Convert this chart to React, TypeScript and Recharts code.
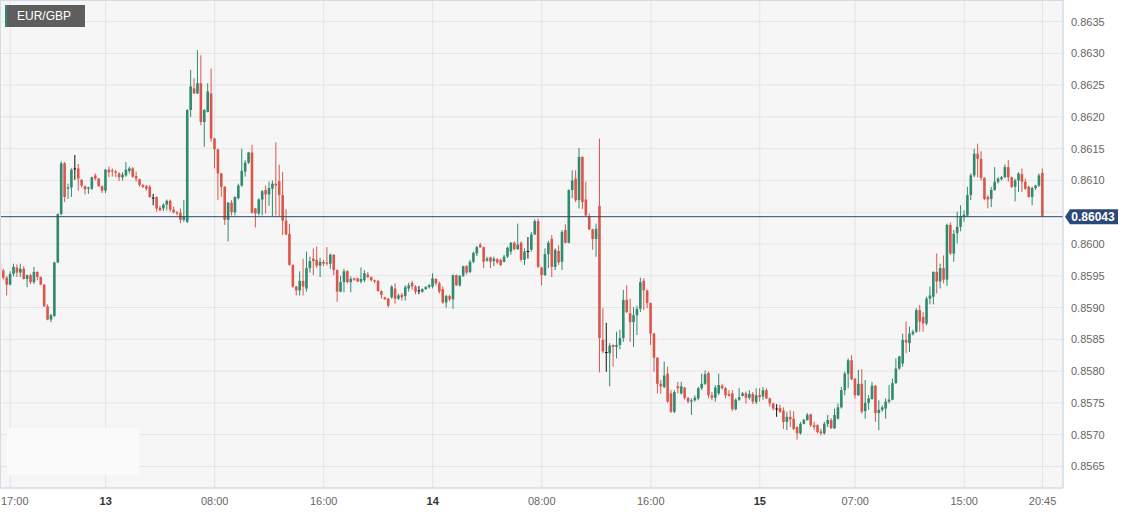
import React from 'react';
import { ComposedChart, Bar, XAxis, YAxis, CartesianGrid, ReferenceLine } from 'recharts';

// 15-minute candles, 16:15 (12th) .. 20:45 (15th)
const OPEN = [
  0.85970, 0.85958, 0.85947, 0.85936, 0.85953, 0.85963, 0.85955, 0.85961, 0.85945, 0.85951,
  0.85940, 0.85956, 0.85948, 0.85936, 0.85902, 0.85881, 0.85887, 0.85971, 0.86047, 0.86127,
  0.86087, 0.86089, 0.86119, 0.86119, 0.86101, 0.86091, 0.86087, 0.86087, 0.86108, 0.86103,
  0.86091, 0.86084, 0.86117, 0.86116, 0.86114, 0.86111, 0.86105, 0.86108, 0.86115, 0.86119,
  0.86107, 0.86102, 0.86093, 0.86091, 0.86090, 0.86073, 0.86074, 0.86057, 0.86056, 0.86062,
  0.86068, 0.86054, 0.86050, 0.86049, 0.86038, 0.86035, 0.86211, 0.86245, 0.86237, 0.86253,
  0.86192, 0.86208, 0.86237, 0.86166, 0.86149, 0.86111, 0.86090, 0.86038, 0.86065, 0.86050,
  0.86072, 0.86092, 0.86114, 0.86128, 0.86144, 0.86056, 0.86048, 0.86070, 0.86085, 0.86078,
  0.86087, 0.86095, 0.86099, 0.86077, 0.86037, 0.86016, 0.85967, 0.85933, 0.85927, 0.85942,
  0.85930, 0.85962, 0.85977, 0.85975, 0.85966, 0.85972, 0.85971, 0.85969, 0.85983, 0.85959,
  0.85925, 0.85940, 0.85957, 0.85940, 0.85946, 0.85946, 0.85941, 0.85943, 0.85952, 0.85948,
  0.85943, 0.85942, 0.85926, 0.85916, 0.85914, 0.85916, 0.85930, 0.85914, 0.85920, 0.85918,
  0.85930, 0.85939, 0.85933, 0.85927, 0.85925, 0.85929, 0.85932, 0.85933, 0.85945, 0.85938,
  0.85929, 0.85908, 0.85918, 0.85913, 0.85951, 0.85935, 0.85950, 0.85965, 0.85956, 0.85972,
  0.85985, 0.85999, 0.85995, 0.85974, 0.85979, 0.85973, 0.85976, 0.85975, 0.85972, 0.85980,
  0.85988, 0.86002, 0.85992, 0.86002, 0.85975, 0.85989, 0.85991, 0.86015, 0.86036, 0.85963,
  0.85951, 0.85984, 0.86008, 0.85964, 0.85989, 0.85972, 0.86022, 0.86002, 0.86085, 0.86103,
  0.86069, 0.86137, 0.86070, 0.86044, 0.86023, 0.86008, 0.86060, 0.85849, 0.85830, 0.85828,
  0.85841, 0.85838, 0.85841, 0.85852, 0.85912, 0.85891, 0.85877, 0.85888, 0.85898, 0.85942,
  0.85927, 0.85907, 0.85859, 0.85821, 0.85780, 0.85775, 0.85796, 0.85765, 0.85736, 0.85776,
  0.85765, 0.85774, 0.85758, 0.85752, 0.85754, 0.85757, 0.85773, 0.85780, 0.85797, 0.85762,
  0.85758, 0.85765, 0.85777, 0.85773, 0.85764, 0.85765, 0.85740, 0.85755, 0.85761, 0.85765,
  0.85758, 0.85764, 0.85751, 0.85762, 0.85760, 0.85770, 0.85757, 0.85749, 0.85741, 0.85742,
  0.85738, 0.85720, 0.85728, 0.85725, 0.85712, 0.85702, 0.85717, 0.85723, 0.85732, 0.85715,
  0.85715, 0.85705, 0.85702, 0.85717, 0.85723, 0.85710, 0.85725, 0.85743, 0.85770, 0.85796,
  0.85817, 0.85788, 0.85762, 0.85780, 0.85737, 0.85750, 0.85756, 0.85777, 0.85734, 0.85739,
  0.85741, 0.85752, 0.85755, 0.85781, 0.85804, 0.85812, 0.85849, 0.85844, 0.85858, 0.85862,
  0.85896, 0.85885, 0.85875, 0.85914, 0.85917, 0.85956, 0.85941, 0.85962, 0.85944, 0.86030,
  0.85985, 0.86017, 0.86027, 0.86043, 0.86045, 0.86077, 0.86108, 0.86142, 0.86134, 0.86104,
  0.86074, 0.86071, 0.86085, 0.86098, 0.86102, 0.86105, 0.86121, 0.86105, 0.86090, 0.86100,
  0.86110, 0.86098, 0.86090, 0.86074, 0.86088, 0.86092, 0.86112,
];

const HIGH = [
  0.85974, 0.85961, 0.85950, 0.85957, 0.85969, 0.85968, 0.85969, 0.85965, 0.85952, 0.85953,
  0.85964, 0.85957, 0.85949, 0.85937, 0.85905, 0.85890, 0.85972, 0.86048, 0.86130, 0.86129,
  0.86095, 0.86119, 0.86140, 0.86126, 0.86102, 0.86092, 0.86090, 0.86106, 0.86111, 0.86104,
  0.86092, 0.86118, 0.86122, 0.86119, 0.86117, 0.86113, 0.86113, 0.86129, 0.86122, 0.86121,
  0.86114, 0.86103, 0.86094, 0.86093, 0.86093, 0.86079, 0.86075, 0.86060, 0.86064, 0.86070,
  0.86070, 0.86059, 0.86052, 0.86056, 0.86069, 0.86212, 0.86274, 0.86261, 0.86305, 0.86297,
  0.86212, 0.86253, 0.86276, 0.86167, 0.86150, 0.86112, 0.86091, 0.86066, 0.86069, 0.86075,
  0.86095, 0.86150, 0.86132, 0.86145, 0.86156, 0.86057, 0.86072, 0.86085, 0.86092, 0.86098,
  0.86100, 0.86160, 0.86125, 0.86113, 0.86055, 0.86032, 0.85968, 0.85934, 0.85957, 0.85977,
  0.85988, 0.85980, 0.85993, 0.85996, 0.85978, 0.85975, 0.85995, 0.85985, 0.85984, 0.85960,
  0.85950, 0.85961, 0.85959, 0.85949, 0.85947, 0.85947, 0.85963, 0.85959, 0.85956, 0.85949,
  0.85944, 0.85943, 0.85927, 0.85917, 0.85915, 0.85935, 0.85938, 0.85922, 0.85923, 0.85935,
  0.85939, 0.85942, 0.85935, 0.85934, 0.85930, 0.85934, 0.85937, 0.85954, 0.85946, 0.85941,
  0.85933, 0.85920, 0.85920, 0.85952, 0.85952, 0.85951, 0.85966, 0.85967, 0.85975, 0.85988,
  0.85997, 0.86002, 0.85996, 0.85980, 0.85980, 0.85980, 0.85978, 0.85977, 0.85983, 0.85996,
  0.86003, 0.86004, 0.86032, 0.86004, 0.85993, 0.86011, 0.86019, 0.86039, 0.86040, 0.85964,
  0.85993, 0.86005, 0.86014, 0.85993, 0.85998, 0.86022, 0.86031, 0.86086, 0.86116, 0.86116,
  0.86151, 0.86138, 0.86098, 0.86048, 0.86024, 0.86032, 0.86166, 0.85899, 0.85876, 0.85844,
  0.85842, 0.85862, 0.85865, 0.85928, 0.85935, 0.85914, 0.85901, 0.85903, 0.85947, 0.85946,
  0.85928, 0.85908, 0.85860, 0.85822, 0.85786, 0.85815, 0.85807, 0.85770, 0.85770, 0.85783,
  0.85783, 0.85775, 0.85759, 0.85757, 0.85762, 0.85775, 0.85796, 0.85801, 0.85799, 0.85767,
  0.85778, 0.85796, 0.85780, 0.85775, 0.85770, 0.85770, 0.85757, 0.85773, 0.85767, 0.85768,
  0.85770, 0.85767, 0.85773, 0.85773, 0.85775, 0.85773, 0.85758, 0.85750, 0.85748, 0.85747,
  0.85743, 0.85736, 0.85738, 0.85737, 0.85713, 0.85720, 0.85725, 0.85734, 0.85733, 0.85720,
  0.85716, 0.85709, 0.85720, 0.85731, 0.85726, 0.85741, 0.85749, 0.85775, 0.85799, 0.85820,
  0.85825, 0.85789, 0.85802, 0.85803, 0.85786, 0.85762, 0.85783, 0.85778, 0.85754, 0.85746,
  0.85757, 0.85778, 0.85788, 0.85820, 0.85824, 0.85859, 0.85878, 0.85870, 0.85865, 0.85899,
  0.85904, 0.85893, 0.85917, 0.85933, 0.85957, 0.85985, 0.85969, 0.85982, 0.86032, 0.86034,
  0.86022, 0.86051, 0.86061, 0.86053, 0.86090, 0.86111, 0.86150, 0.86158, 0.86146, 0.86105,
  0.86077, 0.86090, 0.86121, 0.86105, 0.86107, 0.86125, 0.86132, 0.86106, 0.86103, 0.86113,
  0.86119, 0.86103, 0.86092, 0.86090, 0.86093, 0.86111, 0.86119,
];

const LOW = [
  0.85955, 0.85944, 0.85919, 0.85935, 0.85949, 0.85948, 0.85948, 0.85944, 0.85932, 0.85937,
  0.85937, 0.85943, 0.85935, 0.85901, 0.85880, 0.85877, 0.85885, 0.85970, 0.86045, 0.86066,
  0.86071, 0.86074, 0.86101, 0.86084, 0.86089, 0.86078, 0.86079, 0.86085, 0.86100, 0.86090,
  0.86080, 0.86080, 0.86105, 0.86106, 0.86105, 0.86099, 0.86100, 0.86106, 0.86111, 0.86104,
  0.86098, 0.86090, 0.86088, 0.86084, 0.86073, 0.86061, 0.86051, 0.86052, 0.86052, 0.86053,
  0.86051, 0.86048, 0.86045, 0.86033, 0.86035, 0.86033, 0.86200, 0.86236, 0.86236, 0.86187,
  0.86153, 0.86207, 0.86161, 0.86119, 0.86069, 0.86074, 0.86030, 0.86004, 0.86045, 0.86045,
  0.86070, 0.86090, 0.86106, 0.86126, 0.86048, 0.86026, 0.86045, 0.86045, 0.86048, 0.86060,
  0.86044, 0.86045, 0.86043, 0.86014, 0.86014, 0.85966, 0.85931, 0.85919, 0.85919, 0.85919,
  0.85925, 0.85955, 0.85951, 0.85962, 0.85948, 0.85965, 0.85966, 0.85961, 0.85951, 0.85909,
  0.85924, 0.85924, 0.85938, 0.85924, 0.85942, 0.85940, 0.85938, 0.85940, 0.85946, 0.85941,
  0.85938, 0.85925, 0.85914, 0.85912, 0.85900, 0.85914, 0.85906, 0.85912, 0.85911, 0.85911,
  0.85925, 0.85928, 0.85921, 0.85921, 0.85923, 0.85928, 0.85930, 0.85930, 0.85935, 0.85922,
  0.85906, 0.85900, 0.85910, 0.85898, 0.85934, 0.85933, 0.85948, 0.85952, 0.85954, 0.85970,
  0.85981, 0.85994, 0.85962, 0.85972, 0.85962, 0.85965, 0.85969, 0.85965, 0.85971, 0.85978,
  0.85983, 0.85990, 0.85991, 0.85972, 0.85967, 0.85977, 0.85988, 0.86014, 0.85962, 0.85935,
  0.85950, 0.85962, 0.85948, 0.85959, 0.85967, 0.85959, 0.86001, 0.86001, 0.86072, 0.86066,
  0.86056, 0.86055, 0.86044, 0.86022, 0.85991, 0.85980, 0.85798, 0.85828, 0.85799, 0.85776,
  0.85807, 0.85820, 0.85834, 0.85846, 0.85891, 0.85846, 0.85838, 0.85857, 0.85893, 0.85896,
  0.85899, 0.85841, 0.85799, 0.85765, 0.85764, 0.85773, 0.85750, 0.85734, 0.85734, 0.85765,
  0.85763, 0.85755, 0.85749, 0.85731, 0.85752, 0.85754, 0.85770, 0.85778, 0.85757, 0.85754,
  0.85752, 0.85762, 0.85771, 0.85757, 0.85760, 0.85737, 0.85738, 0.85753, 0.85760, 0.85749,
  0.85755, 0.85748, 0.85748, 0.85752, 0.85755, 0.85756, 0.85744, 0.85738, 0.85728, 0.85734,
  0.85709, 0.85707, 0.85712, 0.85707, 0.85692, 0.85700, 0.85716, 0.85722, 0.85712, 0.85707,
  0.85702, 0.85699, 0.85700, 0.85712, 0.85709, 0.85709, 0.85724, 0.85741, 0.85762, 0.85773,
  0.85786, 0.85757, 0.85761, 0.85733, 0.85725, 0.85739, 0.85755, 0.85720, 0.85707, 0.85736,
  0.85725, 0.85749, 0.85754, 0.85780, 0.85802, 0.85807, 0.85828, 0.85830, 0.85856, 0.85860,
  0.85862, 0.85862, 0.85872, 0.85905, 0.85905, 0.85922, 0.85930, 0.85938, 0.85934, 0.85983,
  0.85972, 0.86001, 0.86020, 0.86035, 0.86043, 0.86069, 0.86105, 0.86105, 0.86100, 0.86069,
  0.86056, 0.86058, 0.86084, 0.86095, 0.86100, 0.86104, 0.86098, 0.86088, 0.86067, 0.86082,
  0.86082, 0.86085, 0.86073, 0.86061, 0.86085, 0.86090, 0.86043,
];

const CLOSE = [
  0.85958, 0.85947, 0.85936, 0.85953, 0.85964, 0.85955, 0.85961, 0.85945, 0.85951, 0.85940,
  0.85956, 0.85948, 0.85936, 0.85902, 0.85881, 0.85888, 0.85971, 0.86047, 0.86127, 0.86074,
  0.86089, 0.86117, 0.86119, 0.86103, 0.86092, 0.86086, 0.86089, 0.86105, 0.86103, 0.86091,
  0.86084, 0.86117, 0.86113, 0.86114, 0.86112, 0.86105, 0.86109, 0.86117, 0.86119, 0.86106,
  0.86103, 0.86093, 0.86090, 0.86087, 0.86074, 0.86073, 0.86056, 0.86053, 0.86062, 0.86068,
  0.86054, 0.86050, 0.86048, 0.86038, 0.86043, 0.86211, 0.86248, 0.86237, 0.86253, 0.86192,
  0.86211, 0.86240, 0.86166, 0.86149, 0.86111, 0.86090, 0.86038, 0.86065, 0.86050, 0.86074,
  0.86092, 0.86115, 0.86128, 0.86144, 0.86049, 0.86048, 0.86070, 0.86083, 0.86078, 0.86088,
  0.86095, 0.86092, 0.86077, 0.86037, 0.86015, 0.85967, 0.85933, 0.85927, 0.85942, 0.85933,
  0.85962, 0.85973, 0.85973, 0.85966, 0.85972, 0.85969, 0.85969, 0.85983, 0.85959, 0.85925,
  0.85940, 0.85957, 0.85940, 0.85945, 0.85944, 0.85941, 0.85945, 0.85954, 0.85948, 0.85943,
  0.85941, 0.85926, 0.85920, 0.85913, 0.85903, 0.85933, 0.85914, 0.85919, 0.85916, 0.85932,
  0.85935, 0.85933, 0.85925, 0.85927, 0.85929, 0.85932, 0.85935, 0.85946, 0.85938, 0.85925,
  0.85908, 0.85918, 0.85913, 0.85951, 0.85935, 0.85950, 0.85965, 0.85955, 0.85972, 0.85986,
  0.85995, 0.85995, 0.85972, 0.85977, 0.85972, 0.85977, 0.85971, 0.85967, 0.85980, 0.85994,
  0.86002, 0.85992, 0.85999, 0.85975, 0.85988, 0.85989, 0.86015, 0.86036, 0.85964, 0.85951,
  0.85984, 0.86002, 0.85964, 0.85991, 0.85971, 0.86019, 0.86002, 0.86085, 0.86100, 0.86069,
  0.86137, 0.86066, 0.86045, 0.86023, 0.86008, 0.86024, 0.85852, 0.85831, 0.85830, 0.85840,
  0.85838, 0.85841, 0.85852, 0.85912, 0.85893, 0.85877, 0.85888, 0.85898, 0.85940, 0.85927,
  0.85907, 0.85859, 0.85821, 0.85780, 0.85776, 0.85793, 0.85752, 0.85736, 0.85767, 0.85773,
  0.85776, 0.85758, 0.85752, 0.85754, 0.85758, 0.85773, 0.85780, 0.85795, 0.85762, 0.85758,
  0.85774, 0.85778, 0.85773, 0.85762, 0.85761, 0.85740, 0.85755, 0.85759, 0.85765, 0.85758,
  0.85764, 0.85752, 0.85762, 0.85759, 0.85770, 0.85757, 0.85749, 0.85741, 0.85741, 0.85736,
  0.85720, 0.85728, 0.85724, 0.85709, 0.85702, 0.85717, 0.85723, 0.85731, 0.85715, 0.85712,
  0.85704, 0.85702, 0.85717, 0.85723, 0.85710, 0.85731, 0.85743, 0.85770, 0.85796, 0.85817,
  0.85787, 0.85762, 0.85780, 0.85736, 0.85750, 0.85757, 0.85777, 0.85734, 0.85739, 0.85743,
  0.85752, 0.85755, 0.85781, 0.85804, 0.85823, 0.85849, 0.85845, 0.85859, 0.85862, 0.85896,
  0.85878, 0.85875, 0.85914, 0.85919, 0.85956, 0.85941, 0.85962, 0.85944, 0.86030, 0.85985,
  0.86016, 0.86027, 0.86043, 0.86046, 0.86077, 0.86108, 0.86142, 0.86134, 0.86104, 0.86071,
  0.86070, 0.86085, 0.86098, 0.86103, 0.86105, 0.86121, 0.86105, 0.86090, 0.86100, 0.86111,
  0.86098, 0.86087, 0.86074, 0.86088, 0.86092, 0.86108, 0.86043,
];

// x-axis: candle index of each labelled time
const TICK_INDEX = [3, 31, 63, 95, 127, 159, 191, 223, 251, 283, 306];
const TICK_LABELS = ['17:00', '13', '08:00', '16:00', '14', '08:00', '16:00', '15', '07:00', '15:00', '20:45'];
const DAY_LABELS = ['13', '14', '15'];

const PRICE_TICKS = [
  0.8565, 0.857, 0.8575, 0.858, 0.8585, 0.859, 0.8595, 0.86,
  0.8605, 0.861, 0.8615, 0.862, 0.8625, 0.863, 0.8635,
];
const LAST_PRICE = 0.86043;

const GREEN = '#2f8a6f';
const RED = '#d9574a';
const NAVY = '#2c4878';
const FONT = '"Liberation Sans", Arial, sans-serif';

const data = OPEN.map((open, i) => ({
  i,
  open,
  high: HIGH[i],
  low: LOW[i],
  close: CLOSE[i],
}));

const Candle = (props: any) => {
  const { x, y, width, height, payload } = props;
  if (!payload) return null;
  const { open, close, high, low } = payload;
  const top = Math.min(y, y + height);
  const h = Math.abs(height);
  const k = high > low ? h / (high - low) : 0;
  const yO = top + (high - open) * k;
  const yC = top + (high - close) * k;
  const color = close > open ? GREEN : close < open ? RED : '#111';
  const cx = x + width / 2;
  const bTop = Math.min(yO, yC);
  const bH = Math.max(Math.abs(yC - yO), 1);
  return (
    <g>
      <line x1={cx} x2={cx} y1={top} y2={top + h} stroke={color} strokeWidth={1} />
      <rect x={cx - 1.3} y={bTop} width={2.6} height={bH} fill={color} />
    </g>
  );
};

const XTick = (props: any) => {
  const { x, y, payload } = props;
  const label = TICK_LABELS[TICK_INDEX.indexOf(payload.value)];
  const bold = DAY_LABELS.includes(label);
  // keep the first label inside the picture
  const nearEdge = x < 16;
  return (
    <text
      x={nearEdge ? 1 : x}
      y={y}
      dy={9}
      textAnchor={nearEdge ? 'start' : 'middle'}
      fontSize={11}
      fontFamily={FONT}
      fontWeight={bold ? 'bold' : 'normal'}
      fill={bold ? '#333' : '#666'}
    >
      {label}
    </text>
  );
};

const YTick = (props: any) => {
  const { x, y, payload } = props;
  // the 0.8605 label sits under the last-price tag
  if (Math.abs(payload.value - 0.8605) < 1e-9) return null;
  return (
    <text x={x} y={y} dy={4} textAnchor="start" fontSize={11} fontFamily={FONT} fill="#666">
      {payload.value.toFixed(4)}
    </text>
  );
};

const PriceTag = (props: any) => {
  const vb = props.viewBox;
  if (!vb) return null;
  const x0 = vb.x + vb.width + 2;
  const y0 = vb.y;
  return (
    <g>
      <path
        d={`M${x0},${y0} L${x0 + 5},${y0 - 7.5} L${x0 + 53},${y0 - 7.5} L${x0 + 53},${y0 + 7.5} L${x0 + 5},${y0 + 7.5} Z`}
        fill={NAVY}
      />
      <text x={x0 + 28} y={y0 + 4.3} textAnchor="middle" fontSize={12} fontWeight="bold" fontFamily={FONT} fill="#fff">
        {LAST_PRICE.toFixed(5)}
      </text>
    </g>
  );
};

export default function App() {
  return (
    <div style={{ position: 'absolute', left: 0, top: 0, width: 1133, height: 514, background: '#fff', fontFamily: FONT }}>
      <ComposedChart width={1133} height={514} data={data} margin={{ top: 0, right: 0, bottom: 0, left: 0 }}>
        <CartesianGrid stroke="#e4e4e4" fill="#f6f6f6" />
        <XAxis
          type="number"
          dataKey="i"
          domain={[-0.02, 312]}
          allowDataOverflow
          ticks={TICK_INDEX}
          interval={0}
          tick={<XTick />}
          tickLine={false}
          axisLine={{ stroke: '#cdd5e4' }}
          height={26}
        />
        <YAxis
          orientation="right"
          type="number"
          domain={[0.85616, 0.86384]}
          allowDataOverflow
          ticks={PRICE_TICKS}
          interval={0}
          tick={<YTick />}
          tickLine={false}
          axisLine={{ stroke: '#cdd5e4' }}
          width={70}
        />
        <Bar dataKey={(d: any) => [d.low, d.high]} shape={<Candle />} barSize={3} isAnimationActive={false} />
        <ReferenceLine y={LAST_PRICE} stroke={NAVY} strokeWidth={1} label={<PriceTag />} />
      </ComposedChart>

      {/* faint patch bottom-left */}
      <div style={{ position: 'absolute', left: 7, top: 428, width: 132, height: 47, background: '#fafafa' }} />

      {/* title box */}
      <div
        style={{
          position: 'absolute',
          left: 5,
          top: 5,
          width: 80,
          height: 22,
          background: '#5e5e5e',
          borderLeft: `2px solid ${GREEN}`,
          boxSizing: 'border-box',
          color: '#fff',
          fontSize: 12,
          lineHeight: '22px',
          paddingLeft: 10,
          fontFamily: FONT,
        }}
      >
        EUR/GBP
      </div>

      {/* outer frame, top and left */}
      <div
        style={{
          position: 'absolute',
          left: 0,
          top: 0,
          width: 1063,
          height: 488,
          borderTop: '1px solid #d3dbe9',
          borderLeft: '1px solid #d3dbe9',
          boxSizing: 'border-box',
          pointerEvents: 'none',
        }}
      />
    </div>
  );
}
